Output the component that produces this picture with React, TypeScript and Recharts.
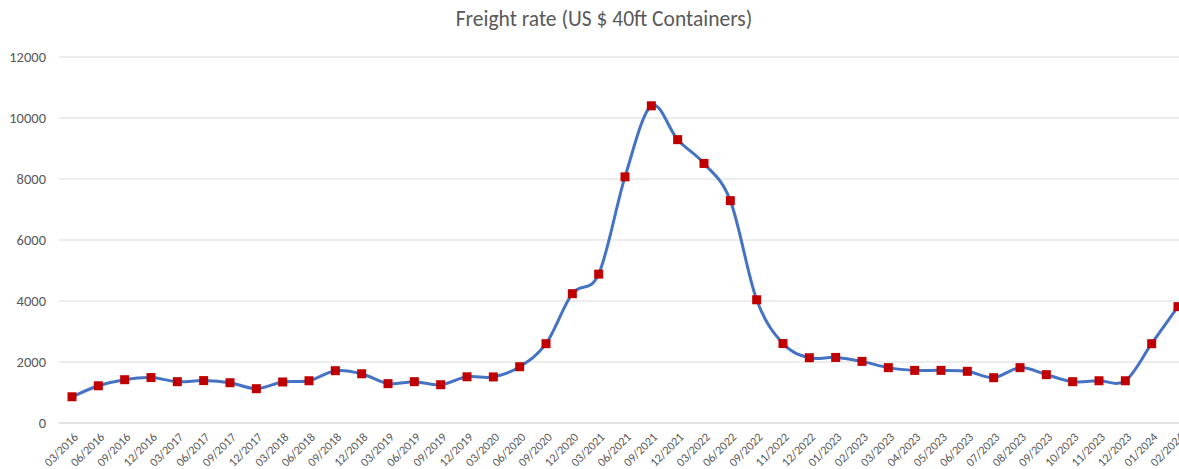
import { LineChart, Line, XAxis, YAxis, CartesianGrid } from "recharts"

const months = [
  "03/2016", "06/2016", "09/2016", "12/2016", "03/2017", "06/2017", "09/2017", "12/2017",
  "03/2018", "06/2018", "09/2018", "12/2018", "03/2019", "06/2019", "09/2019", "12/2019",
  "03/2020", "06/2020", "09/2020", "12/2020", "03/2021", "06/2021", "09/2021", "12/2021",
  "03/2022", "06/2022", "09/2022", "11/2022", "12/2022", "01/2023", "02/2023", "03/2023",
  "04/2023", "05/2023", "06/2023", "07/2023", "08/2023", "09/2023", "10/2023", "11/2023",
  "12/2023", "01/2024", "02/2024",
]

const rates = [
  860, 1220, 1420, 1490, 1355, 1390, 1320, 1125,
  1345, 1385, 1715, 1615, 1290, 1355, 1255, 1515,
  1510, 1845, 2600, 4240, 4880, 8070, 10400, 9290,
  8510, 7290, 4040, 2605, 2140, 2150, 2020, 1815,
  1725, 1725, 1695, 1485, 1815, 1585, 1355, 1385,
  1385, 2600, 3815,
]

const yTicks = [0, 2000, 4000, 6000, 8000, 10000, 12000]

const data = months.map((m, i) => ({ month: m, rate: rates[i] }))

const FONT = "Calibri, Carlito, 'Liberation Sans', sans-serif"
const GREY = "#595959"

// Excel-style smoothed line (Catmull-Rom as bezier)
const excelSmooth = (context: any) => {
  let pts: [number, number][] = []
  return {
    areaStart() {},
    areaEnd() {},
    lineStart() {
      pts = []
    },
    lineEnd() {
      if (!pts.length) return
      context.moveTo(pts[0][0], pts[0][1])
      for (let i = 0; i < pts.length - 1; i++) {
        const p0 = pts[i - 1] || pts[i]
        const p1 = pts[i]
        const p2 = pts[i + 1]
        const p3 = pts[i + 2] || p2
        context.bezierCurveTo(
          p1[0] + (p2[0] - p0[0]) / 6,
          p1[1] + (p2[1] - p0[1]) / 6,
          p2[0] - (p3[0] - p1[0]) / 6,
          p2[1] - (p3[1] - p1[1]) / 6,
          p2[0],
          p2[1]
        )
      }
    },
    point(x: number, y: number) {
      pts.push([+x, +y])
    },
  }
}

const SquareDot = (props: any) => {
  const { cx, cy, index } = props
  if (cx == null || cy == null) return <g key={index} />
  return <rect key={index} x={cx - 4.5} y={cy - 4.5} width={9} height={9} fill="#C00000" />
}

const MonthTick = (props: any) => {
  const { x, y, payload } = props
  return (
    <g transform={`translate(${x + 4},${y + 4})`}>
      <text transform="rotate(-45)" textAnchor="end" dy={4} fontSize={12.2} fill={GREY} fontFamily={FONT}>
        {payload.value}
      </text>
    </g>
  )
}

export default function App() {
  return (
    <div style={{ position: "absolute", left: 0, top: 0, width: 1179, height: 469, overflow: "hidden", background: "#fff" }}>
      <div
        style={{
          position: "absolute",
          left: 0,
          width: 1208,
          top: 6,
          textAlign: "center",
          fontFamily: FONT,
          fontSize: 21.5,
          color: GREY,
        }}
      >
        Freight rate (US $ 40ft Containers)
      </div>
      <LineChart width={1200} height={469} data={data} margin={{ top: 57, right: 9, bottom: 0, left: 9 }}>
        <CartesianGrid vertical={false} stroke="#D9D9D9" />
        <XAxis
          dataKey="month"
          interval={0}
          padding={{ left: 13, right: 13 }}
          axisLine={{ stroke: "#D9D9D9" }}
          tickLine={false}
          tick={<MonthTick />}
          height={46}
        />
        <YAxis
          domain={[0, 12000]}
          ticks={yTicks}
          axisLine={false}
          tickLine={false}
          width={50}
          tick={{ fontSize: 14.5, fill: GREY, fontFamily: FONT }}
          tickMargin={7}
        />
        <Line
          dataKey="rate"
          type={excelSmooth as any}
          stroke="#4472C4"
          strokeWidth={3}
          dot={<SquareDot />}
          activeDot={false}
          isAnimationActive={false}
        />
      </LineChart>
    </div>
  )
}
